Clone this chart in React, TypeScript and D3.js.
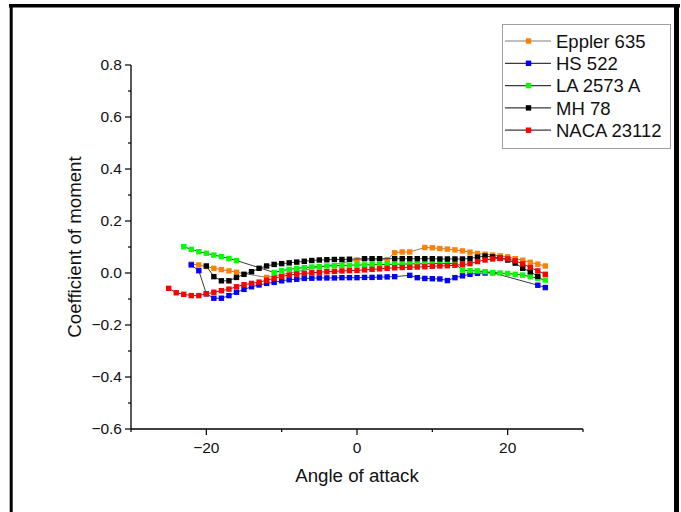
import React from "react";
import * as d3 from "d3";

// ---- data ----
const SERIES_NAMES = ["Eppler 635", "HS 522", "LA 2573 A", "MH 78", "NACA 23112"];
const SERIES_COLORS = ["#FF8000", "#0000FF", "#00FF00", "#000000", "#FF0000"];
const LINE_COLORS = ["#808080", "#3a3a3a", "#3a3a3a", "#3a3a3a", "#3a3a3a"];

const EPPLER_AOA = [-22, -21, -20, -19, -18, -17, -16, -12, 0, 4, 5, 6, 7, 9, 10, 11, 12, 13, 14, 15, 16, 17, 18, 19, 20, 21, 22, 23, 24, 25];
const EPPLER_CM = [0.034, 0.031, 0.025, 0.018, 0.013, 0.008, 0.003, -0.017, 0.050, 0.051, 0.078, 0.081, 0.081, 0.098, 0.097, 0.094, 0.092, 0.089, 0.085, 0.080, 0.075, 0.072, 0.069, 0.066, 0.062, 0.055, 0.049, 0.041, 0.034, 0.027];

const HS_AOA = [-22, -21, -20, -19, -18, -17, -16, -15, -14, -13, -12, -11, -10, -9, -8, -7, -6, -5, -4, -3, -2, -1, 0, 1, 2, 3, 4, 5, 7, 8, 9, 10, 11, 12, 13, 14, 15, 16, 17, 18, 24, 25];
const HS_CM = [0.031, 0.009, -0.080, -0.097, -0.097, -0.087, -0.074, -0.063, -0.053, -0.046, -0.040, -0.036, -0.030, -0.026, -0.024, -0.021, -0.020, -0.019, -0.019, -0.019, -0.018, -0.018, -0.018, -0.017, -0.017, -0.016, -0.015, -0.014, -0.009, -0.018, -0.021, -0.022, -0.023, -0.029, -0.018, -0.011, -0.005, -0.001, 0.000, 0.001, -0.047, -0.056];

const LA_AOA = [-23, -22, -21, -20, -19, -18, -17, -16, -11, -10, -9, -8, -7, -6, -5, -4, -3, -2, -1, 0, 1, 2, 3, 4, 5, 6, 7, 8, 9, 10, 11, 12, 13, 14, 15, 16, 17, 18, 19, 20, 21, 22, 23, 24, 25];
const LA_CM = [0.101, 0.091, 0.082, 0.076, 0.069, 0.063, 0.056, 0.048, 0.002, 0.009, 0.014, 0.018, 0.021, 0.023, 0.025, 0.027, 0.028, 0.029, 0.030, 0.031, 0.031, 0.032, 0.032, 0.033, 0.034, 0.034, 0.035, 0.035, 0.035, 0.036, 0.036, 0.036, 0.036, 0.011, 0.009, 0.008, 0.005, 0.002, 0.000, -0.002, -0.005, -0.008, -0.014, -0.020, -0.027];

const MH_AOA = [-20, -19, -18, -17, -16, -15, -14, -13, -12, -11, -10, -9, -8, -7, -6, -5, -4, -3, -2, -1, 1, 2, 3, 5, 6, 7, 8, 9, 10, 11, 12, 13, 14, 15, 16, 17, 18, 19, 20, 21, 22, 23, 24];
const MH_CM = [0.027, -0.014, -0.030, -0.030, -0.017, -0.005, 0.005, 0.018, 0.027, 0.033, 0.036, 0.039, 0.042, 0.045, 0.048, 0.050, 0.051, 0.052, 0.052, 0.053, 0.055, 0.055, 0.055, 0.055, 0.055, 0.055, 0.055, 0.055, 0.055, 0.054, 0.054, 0.054, 0.054, 0.056, 0.061, 0.065, 0.062, 0.057, 0.050, 0.038, 0.018, 0.005, -0.013];

const NACA_AOA = [-25, -24, -23, -22, -21, -20, -19, -18, -17, -16, -15, -14, -13, -12, -11, -10, -9, -8, -7, -6, -5, -4, -3, -2, -1, 0, 1, 2, 3, 4, 5, 6, 7, 8, 9, 10, 11, 12, 13, 14, 15, 16, 17, 18, 19, 20, 21, 22, 23, 24, 25];
const NACA_CM = [-0.059, -0.076, -0.082, -0.087, -0.087, -0.080, -0.074, -0.068, -0.062, -0.053, -0.045, -0.040, -0.035, -0.028, -0.020, -0.013, -0.008, -0.004, -0.002, 0.001, 0.003, 0.005, 0.006, 0.008, 0.009, 0.010, 0.012, 0.014, 0.016, 0.018, 0.020, 0.021, 0.022, 0.023, 0.024, 0.026, 0.027, 0.028, 0.030, 0.032, 0.036, 0.044, 0.050, 0.054, 0.056, 0.054, 0.047, 0.035, 0.021, 0.008, -0.005];

const X_TICKS = [-20, 0, 20];
const X_MINOR = [-30, -10, 10, 30];
const Y_TICKS = [-0.6, -0.4, -0.2, 0.0, 0.2, 0.4, 0.6, 0.8];
const Y_MINOR = [-0.5, -0.3, -0.1, 0.1, 0.3, 0.5, 0.7];

const X_TITLE = "Angle of attack";
const Y_TITLE = "Coefficient of moment";

const FONT = "'Liberation Sans', Arial, Helvetica, sans-serif";

export default function App() {
  const W = 681;
  const H = 512;
  const x = d3.scaleLinear().domain([-30, 30]).range([131, 583]);
  const y = d3.scaleLinear().domain([-0.6, 0.8]).range([429, 65]);

  const seriesX = [EPPLER_AOA, HS_AOA, LA_AOA, MH_AOA, NACA_AOA];
  const seriesY = [EPPLER_CM, HS_CM, LA_CM, MH_CM, NACA_CM];

  const line = d3
    .line<[number, number]>()
    .x((d) => x(d[0]))
    .y((d) => y(d[1]));

  const fmtY = (v: number) => {
    const s = Math.abs(v).toFixed(1);
    return v < -1e-9 ? "\u2212" + s : s;
  };
  const fmtX = (v: number) => (v < 0 ? "\u2212" + Math.abs(v) : String(v));

  const ms = 5.4;
  const x0 = x.range()[0];
  const yBase = y.range()[0];

  return (
    <svg
      width={W}
      height={H}
      style={{ position: "absolute", left: 0, top: 0, background: "#fff" }}
      fontFamily={FONT}
    >
      {/* outer frame */}
      <line x1={9} x2={680} y1={5.8} y2={5.8} stroke="#000" strokeWidth={3.5} />
      <line x1={11.2} x2={11.2} y1={4} y2={520} stroke="#000" strokeWidth={3} />
      <line x1={676.5} x2={676.5} y1={4} y2={520} stroke="#000" strokeWidth={5} />

      {/* series */}
      {seriesX.map((xs, si) => {
        const pts: [number, number][] = xs.map((a, i) => [a, seriesY[si][i]]);
        return (
          <g key={si}>
            <path d={line(pts) || ""} fill="none" stroke={LINE_COLORS[si]} strokeWidth={1} />
            {pts.map((p, i) => (
              <rect
                key={i}
                x={x(p[0]) - ms / 2}
                y={y(p[1]) - ms / 2}
                width={ms}
                height={ms}
                fill={SERIES_COLORS[si]}
              />
            ))}
          </g>
        );
      })}

      {/* y axis */}
      <line x1={x0} x2={x0} y1={y(0.8)} y2={yBase} stroke="#000" strokeWidth={1.3} />
      {Y_TICKS.map((t) => (
        <g key={"yt" + t}>
          <line x1={x0 - 6} x2={x0} y1={y(t)} y2={y(t)} stroke="#000" strokeWidth={1.2} />
          <text x={x0 - 9} y={y(t)} dy="0.35em" textAnchor="end" fontSize={15.5} fill="#111">
            {fmtY(t)}
          </text>
        </g>
      ))}
      {Y_MINOR.map((t) => (
        <line key={"ym" + t} x1={x0 - 3} x2={x0} y1={y(t)} y2={y(t)} stroke="#000" strokeWidth={1.2} />
      ))}

      {/* x axis */}
      <line x1={x0} x2={x(30)} y1={yBase} y2={yBase} stroke="#000" strokeWidth={1.3} />
      {X_TICKS.map((t) => (
        <g key={"xt" + t}>
          <line x1={x(t)} x2={x(t)} y1={yBase} y2={yBase + 6} stroke="#000" strokeWidth={1.2} />
          <text x={x(t)} y={yBase + 24} textAnchor="middle" fontSize={15.5} fill="#111">
            {fmtX(t)}
          </text>
        </g>
      ))}
      {X_MINOR.map((t) => (
        <line key={"xm" + t} x1={x(t)} x2={x(t)} y1={yBase} y2={yBase + 3} stroke="#000" strokeWidth={1.2} />
      ))}

      {/* axis titles */}
      <text x={357} y={481.5} textAnchor="middle" fontSize={18.7} fill="#111">
        {X_TITLE}
      </text>
      <text
        transform={`translate(80.5, ${(y(0.8) + yBase) / 2}) rotate(-90)`}
        textAnchor="middle"
        fontSize={18.7}
        fill="#111"
      >
        {Y_TITLE}
      </text>

      {/* legend */}
      <rect x={502.5} y={24.5} width={168} height={124} fill="#fff" stroke="#a0a0a0" strokeWidth={1} />
      {SERIES_NAMES.map((name, i) => {
        const ly = 41 + i * 22.3;
        return (
          <g key={name}>
            <line x1={505} x2={551} y1={ly} y2={ly} stroke={LINE_COLORS[i]} strokeWidth={1.2} />
            <rect x={528.5 - ms / 2} y={ly - ms / 2} width={ms} height={ms} fill={SERIES_COLORS[i]} />
            <text x={556} y={ly} dy="0.36em" fontSize={18.5} fill="#111">
              {name}
            </text>
          </g>
        );
      })}
    </svg>
  );
}
